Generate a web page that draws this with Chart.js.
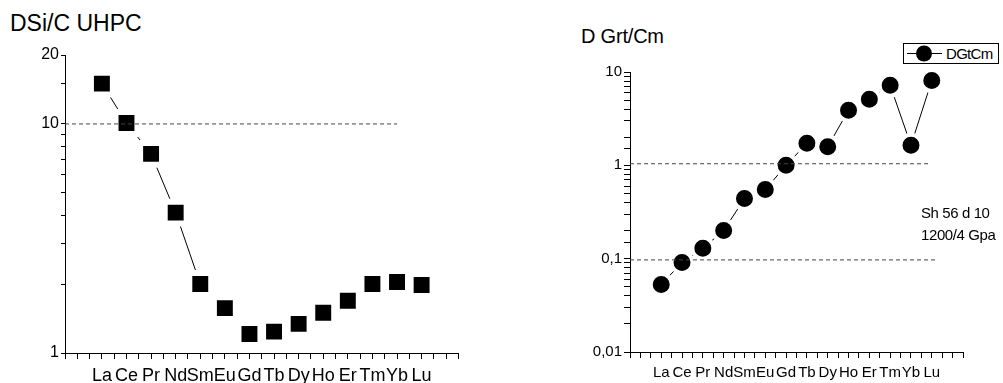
<!DOCTYPE html>
<html>
<head>
<meta charset="utf-8">
<script src="https://cdn.jsdelivr.net/npm/chart.js@4"></script>
<style>
body{margin:0;background:#fff;width:1003px;height:383px;overflow:hidden;position:relative;font-family:'Liberation Sans',Arial,sans-serif;color:#000}
#leftBox{position:absolute;left:0;top:0;width:480px;height:383px}
#rightBox{position:absolute;left:540px;top:0;width:463px;height:383px}
.title{position:absolute;white-space:nowrap;line-height:1}
#legend{position:absolute;left:903px;top:43px;width:94px;height:19px;border:1px solid #000;background:#fff;font-size:15px;line-height:19px;white-space:nowrap}
#legend svg{position:absolute;left:2px;top:0}
#legend span{position:absolute;left:42px;top:0;letter-spacing:-0.7px}
#note{position:absolute;left:921px;top:202px;font-size:15px;line-height:22px;white-space:nowrap;letter-spacing:-0.4px}
</style>
</head>
<body>
<div class="title" style="left:10px;top:12px;font-size:23px">DSi/C UHPC</div>
<div class="title" style="left:581px;top:26px;font-size:20px;letter-spacing:-0.2px">D Grt/Cm</div>
<div id="leftBox"><canvas id="leftChart"></canvas></div>
<div id="rightBox"><canvas id="rightChart"></canvas></div>
<div id="legend"><svg width="40" height="19"><line x1="1" y1="9.5" x2="36" y2="9.5" stroke="#000" stroke-width="1"/><circle cx="18" cy="9.5" r="8" fill="#000"/></svg><span>DGtCm</span></div>
<div id="note">Sh 56 d 10<br>1200/4 Gpa</div>
<script>
// REE on the x axis
var elements = ['La', 'Ce', 'Pr', 'Nd', 'Sm', 'Eu', 'Gd', 'Tb', 'Dy', 'Ho', 'Er', 'Tm', 'Yb', 'Lu'];
// D Si/C UHPC
var dSiC = [15.0, 10.1, 7.4, 4.1, 2.0, 1.57, 1.21, 1.24, 1.34, 1.5, 1.69, 2.0, 2.04, 1.98];
// D Grt/Cm (DGtCm)
var dGtCm = [0.053, 0.091, 0.129, 0.20, 0.44, 0.55, 1.0, 1.72, 1.58, 3.9, 5.1, 7.2, 1.64, 8.1];
// y tick labels shown
var leftTicks = [1, 10, 20];
var rightTicks = {0.01: '0,01', 0.1: '0,1', 1: '1', 10: '10'};
// dashed guide lines [value, last x]
var leftGuide = [10, 13];
var rightGuides = [[1.04, 13.9], [0.097, 14.25]];

function pts(vals) {
    return vals.map(function(v, i) { return {x: i + 1, y: v}; });
}
function guide(g) {
    return {
        data: [{x: -0.5, y: g[0]}, {x: g[1], y: g[0]}],
        borderColor: '#444', borderWidth: 1, borderDash: [4, 3],
        pointRadius: 0, showLine: true, fill: false
    };
}
function xLabel(v) {
    if (Math.abs(v - Math.round(v)) < 0.01 && v >= 1 && v <= 14) return elements[Math.round(v) - 1];
    return '';
}

function makeChart(id, opts) {
    var ctx = document.getElementById(id).getContext('2d');
    return new Chart(ctx, {
        type: 'scatter',
        data: {datasets: opts.datasets},
        options: {
            responsive: true,
            maintainAspectRatio: false,
            animation: false,
            events: [],
            layout: {padding: opts.padding},
            plugins: {legend: {display: false}, tooltip: {enabled: false}, title: {display: false}},
            scales: {
                x: {
                    type: 'linear', min: -0.5, max: 15.5,
                    afterFit: function(s) { s.height = opts.xHeight; },
                    border: {display: true, color: '#000', width: 1},
                    grid: {drawOnChartArea: false, color: '#000', tickLength: 6, tickColor: '#000'},
                    ticks: {
                        stepSize: 0.5, autoSkip: false, maxRotation: 0, padding: 6,
                        color: '#000', font: opts.xFont,
                        callback: function(v) { return xLabel(v); }
                    }
                },
                y: {
                    type: 'logarithmic', min: opts.yMin, max: opts.yMax,
                    afterFit: function(s) { s.width = opts.yWidth; },
                    border: {display: true, color: '#000', width: 1},
                    grid: {drawOnChartArea: false, color: '#000', tickLength: opts.yTick, tickColor: '#000'},
                    ticks: {
                        autoSkip: false, padding: 2, color: '#000', font: opts.yFont,
                        callback: opts.yLabel
                    }
                }
            }
        }
    });
}

makeChart('leftChart', {
    padding: {top: 55, right: 15, bottom: 0, left: 0},
    xHeight: 30, yWidth: 65, yMin: 1, yMax: 20, yTick: 4,
    xFont: {family: 'Liberation Sans', size: 18},
    yFont: {family: 'Liberation Sans', size: 16},
    yLabel: function(v) { return leftTicks.indexOf(v) >= 0 ? String(v) : ''; },
    datasets: [
        guide(leftGuide),
        {
            data: pts(dSiC), showLine: true, borderColor: '#000', borderWidth: 1,
            pointStyle: 'rect', pointRadius: 15.5, pointBackgroundColor: '#000',
            pointBorderColor: '#fff', pointBorderWidth: 6
        }
    ]
});

makeChart('rightChart', {
    padding: {top: 72, right: 40, bottom: 0, left: 0},
    xHeight: 31, yWidth: 90, yMin: 0.01, yMax: 10, yTick: 6,
    xFont: {family: 'Liberation Sans', size: 15},
    yFont: {family: 'Liberation Sans', size: 15},
    yLabel: function(v) { return rightTicks[v] !== undefined ? rightTicks[v] : ''; },
    datasets: [
        guide(rightGuides[0]),
        guide(rightGuides[1]),
        {
            data: pts(dGtCm), showLine: true, borderColor: '#000', borderWidth: 1,
            pointStyle: 'circle', pointRadius: 10.5, pointBackgroundColor: '#000',
            pointBorderColor: '#fff', pointBorderWidth: 4
        }
    ]
});
</script>
</body>
</html>
